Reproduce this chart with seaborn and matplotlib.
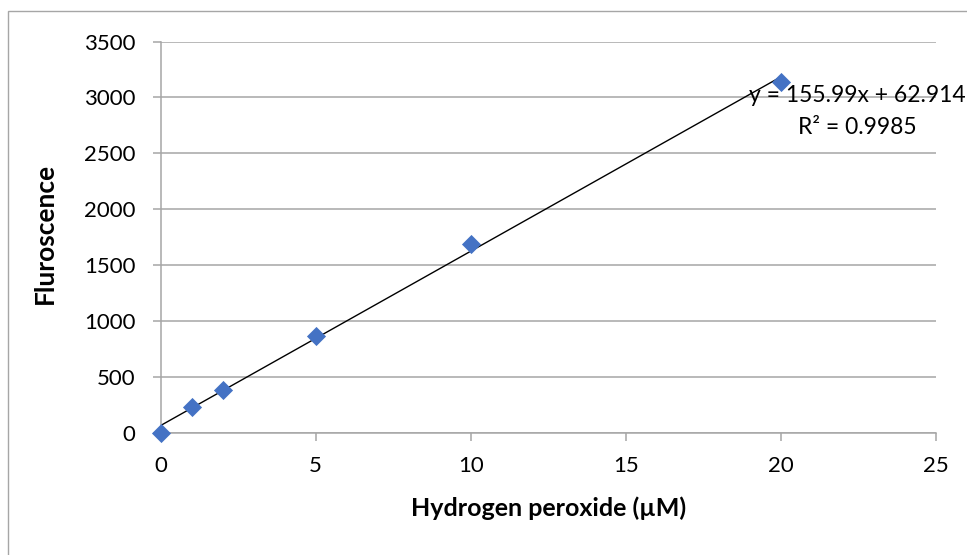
import numpy as np
import pandas as pd
import seaborn as sns
import matplotlib.pyplot as plt
from matplotlib.patches import Rectangle

# data
conc = [0, 1, 2, 5, 10, 20]
fluor = [0, 225, 385, 860, 1690, 3140]
slope = 155.99
intercept = 62.914
r2 = 0.9985
xticks = [0, 5, 10, 15, 20, 25]
yticks = [0, 500, 1000, 1500, 2000, 2500, 3000, 3500]

df = pd.DataFrame({"x": conc, "y": fluor})
fit_x = np.array([min(conc), max(conc)])
fit = pd.DataFrame({"x": fit_x, "y": slope * fit_x + intercept})

sns.set_theme(style="white")
plt.rcParams["font.family"] = ["Lato", "DejaVu Sans"]

grey = "#A6A6A6"
fig = plt.figure(figsize=(9.67, 5.55), dpi=100)
ax = fig.add_axes([0.1662, 0.2207, 0.9676 - 0.1662, 0.9252 - 0.2207])

sns.lineplot(data=fit, x="x", y="y", ax=ax, color="black", linewidth=1.0, zorder=2)
sns.scatterplot(data=df, x="x", y="y", ax=ax, marker="D", s=95, color="#4472C4",
                linewidth=0, zorder=3, clip_on=False)

ax.set_xlim(0, 25)
ax.set_ylim(0, 3500)
ax.set_xticks(xticks)
ax.set_yticks(yticks)
ax.yaxis.grid(True, color=grey, linewidth=1.1)
ax.xaxis.grid(False)
ax.set_axisbelow(True)

for s in ["top", "right"]:
    ax.spines[s].set_visible(False)
for s in ["left", "bottom"]:
    ax.spines[s].set_color(grey)
    ax.spines[s].set_linewidth(1.1)

ax.tick_params(axis="both", which="major", labelsize=16, colors="black",
               length=6, width=1.1, color=grey, direction="out")
ax.tick_params(axis="y", pad=12)
ax.tick_params(axis="x", pad=11)
ax.tick_params(left=True, bottom=True)

ax.set_xlabel("Hydrogen peroxide (µM)", fontsize=18, fontweight="bold", color="black")
ax.set_ylabel("Fluroscence", fontsize=19, fontweight="bold", color="black")
ax.xaxis.set_label_coords(0.5, -0.193)
ax.xaxis.label.set_verticalalignment("center")
ax.yaxis.set_label_coords(-0.149, 0.51)
ax.yaxis.label.set_verticalalignment("center")

ax.text(22.48, 3020, f"y = {slope}x + {intercept}", fontsize=16.5, ha="center",
        va="center", color="black", clip_on=False)
ax.text(22.48, 2726, f"R² = {r2}", fontsize=16.5, ha="center", va="center",
        color="black", clip_on=False)

# chart area border (only left and top visible in the crop)
fig.patches.append(Rectangle((8 / 967, -0.2), 1.2, (555 - 11) / 555 + 0.2,
                             transform=fig.transFigure, fill=False,
                             edgecolor="#A6A6A6", linewidth=1.0))

fig.savefig("out.png", dpi=100)
